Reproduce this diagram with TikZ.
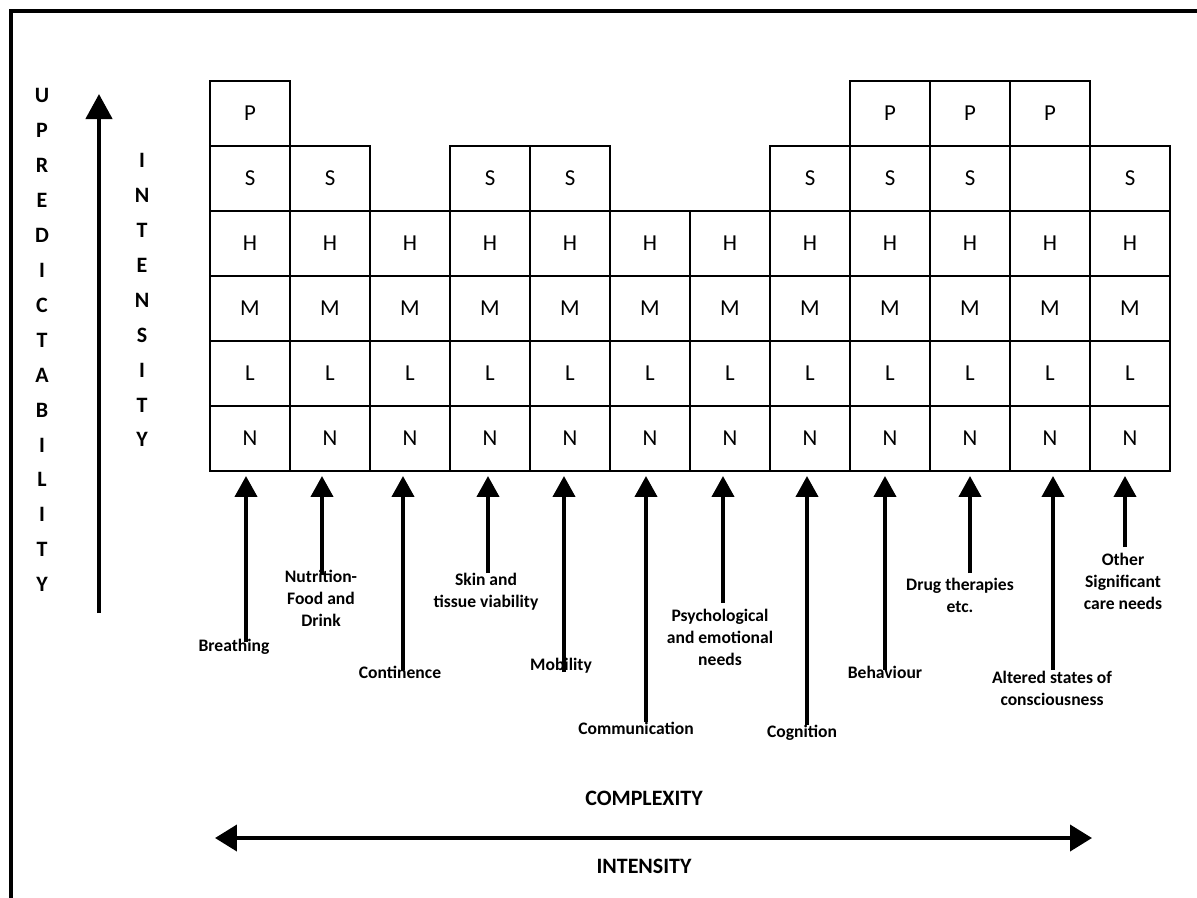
\documentclass[tikz,border=0pt]{standalone}
\usepackage{fontspec}
\setmainfont{Carlito}
\usetikzlibrary{arrows.meta}
\tikzset{
	cell/.style={draw, line width=1.1pt, minimum width=1.6cm, minimum height=1.3cm, inner sep=0pt, font=\fontsize{13}{15}\selectfont},
	need/.style={align=center, inner sep=0pt, font=\bfseries\fontsize{10}{12.5}\selectfont},
	needarrow/.style={line width=2.3pt, -{Triangle[width=0.44cm,length=0.42cm]}, shorten >=0.08cm},
	letters/.style={align=center, inner sep=0pt, font=\bfseries\fontsize{12.5}{19.9}\selectfont},
	axislabel/.style={inner sep=0pt, font=\bfseries\fontsize{12.5}{15}\selectfont}
}
\def\cellat(#1,#2){({\xzero+(#1-0.5)*\cw},{\yzero+(#2-0.5)*\ch})}

\begin{document}
\begin{tikzpicture}[x=0.02cm, y=-0.02cm]
			%%%%% START %%%%%
			\def\xzero{210}
			\def\yzero{81}
			\def\cw{80}
			\def\ch{65}
			
			\useasboundingbox (0,0) rectangle (1197,897);
			\clip (0,0) rectangle (1197,897);
			\draw[line width=0.08cm] (11,11) rectangle (1240,940);
			
			% levels P S H M L N
			\foreach \c in {1,9,10,11} \node[cell] (P\c) at \cellat(\c,1) {P};
			\foreach \c in {1,2,4,5,8,9,10,12} \node[cell] (S\c) at \cellat(\c,2) {S};
			\node[cell] (S11) at \cellat(11,2) {};
			\foreach \lv/\r in {H/3,M/4,L/5,N/6}
				\foreach \c in {1,...,12} \node[cell] (\lv\c) at \cellat(\c,\r) {\lv};
			
			% care domains
			\foreach \c/\ax/\ty/\lx/\ly/\txt in {
				1/246/642/234/647/{Breathing},
				2/322/575/321/598/{Nutrition-\\Food and\\Drink},
				3/403/670/400/672/{Continence},
				4/488/573/486/592/{Skin and\\tissue viability},
				5/564/672/561/666/{Mobility},
				6/646/722/636/728/{Communication},
				7/723/603/720/637/{Psychological\\and emotional\\needs},
				8/807/725/802/733/{Cognition},
				9/885/670/885/672/{Behaviour},
				10/970/573/960/595/{Drug therapies\\etc.},
				11/1053/670/1052/688/{Altered states of\\consciousness},
				12/1125/547/1123/581/{Other\\Significant\\care needs}} {
				\node[need] (lab\c) at (\lx,\ly) {\txt};
				\coordinate (t\c) at (\ax,\ty);
				\draw[needarrow] (t\c) -- (t\c |- N\c.south);
			}
			
			% left axis
			\node[letters] (upred) at (42,340) {U\\P\\R\\E\\D\\I\\C\\T\\A\\B\\I\\L\\I\\T\\Y};
			\node[letters] (inten) at (142,300) {I\\N\\T\\E\\N\\S\\I\\T\\Y};
			\coordinate (upbot) at (99,613);
			\coordinate (uptop) at (99,94);
			\draw[line width=0.09cm, -{Triangle[width=0.52cm,length=0.5cm]}] (upbot) -- (uptop);
			
			% bottom axis
			\node[axislabel] (complexity) at (644,798) {COMPLEXITY};
			\node[axislabel] (intensity) at (644,866) {INTENSITY};
			\coordinate (lowl) at (215,838);
			\coordinate (lowr) at (1092,838);
			\draw[line width=0.08cm, {Triangle[width=0.52cm,length=0.44cm]}-{Triangle[width=0.52cm,length=0.44cm]}] (lowl) -- (lowr);
			%%%%% END %%%%%
\end{tikzpicture}
\end{document}
